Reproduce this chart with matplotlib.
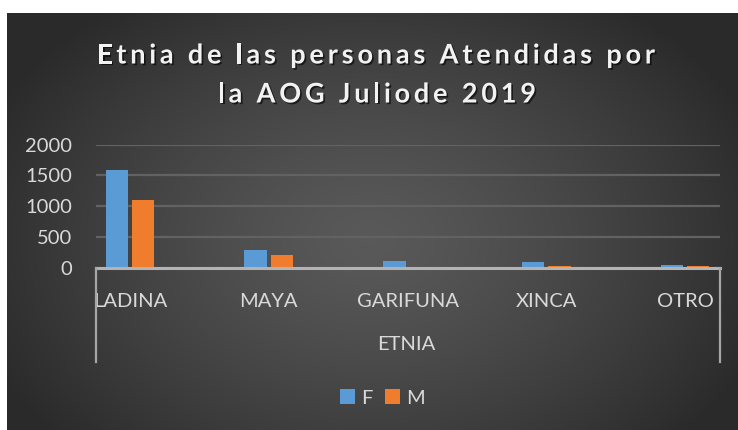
import numpy as np
import matplotlib
matplotlib.use("Agg")
import matplotlib.pyplot as plt
from matplotlib.lines import Line2D
from matplotlib.font_manager import FontProperties
import matplotlib.patheffects as pe

categories = ["LADINA", "MAYA", "GARIFUNA", "XINCA", "OTRO"]
f_values = [1590, 300, 118, 100, 53]
m_values = [1100, 215, 20, 37, 37]
y_ticks = [0, 500, 1000, 1500, 2000]
title_lines = ["Etnia de las personas Atendidas por", "la AOG Juliode 2019"]
axis_title = "ETNIA"
series_names = ["F", "M"]

W, H = 738, 430
DPI = 100
fig = plt.figure(figsize=(W / DPI, H / DPI), dpi=DPI)
fig.patch.set_facecolor("white")

def fx(px):
    return px / W

def fy(py):
    return 1 - py / H

# background with radial gradient
x0, y0 = 7, 13
bg = fig.add_axes([fx(x0), 0, 1 - fx(x0), fy(y0)], zorder=-10)
bg.set_axis_off()
gx = np.linspace(x0, W, 400)
gy = np.linspace(y0, H, 250)
XX, YY = np.meshgrid(gx, gy)
r = np.sqrt(((XX - 370) / 420) ** 2 + ((YY - 240) / 300) ** 2)
r = np.clip(r, 0, 1)
c = 0.35 - (0.35 - 0.165) * r ** 1.3
img = np.dstack([c, c, c])
bg.imshow(img, extent=[0, 1, 0, 1], aspect="auto", origin="upper")
bg.set_xlim(0, 1)
bg.set_ylim(0, 1)

# main axes
ax_l, ax_r, ax_t, ax_b = 96, 720, 144.5, 268.3
ax = fig.add_axes([fx(ax_l), fy(ax_b), fx(ax_r - ax_l), (ax_b - ax_t) / H])
ax.set_facecolor("none")
for s in ax.spines.values():
    s.set_visible(False)

xs = np.arange(len(categories))
bw = 0.162
off = 0.094
ax.bar(xs - off, f_values, width=bw, color="#5b9bd5", zorder=3, label=series_names[0])
ax.bar(xs + off, m_values, width=bw, color="#f07d2e", zorder=3, label=series_names[1])

ax.set_ylim(0, 2000)
ax.set_xlim(-0.245, 4.252)
ax.set_yticks(y_ticks)
ax.set_yticklabels([str(v) for v in y_ticks])
ax.yaxis.grid(True, color="#626262", linewidth=1.6, zorder=0)
ax.set_axisbelow(True)
ax.axhline(0, color="#b3b3b3", linewidth=2.2, zorder=4, clip_on=False)

ax.tick_params(axis="y", length=0, pad=17, labelcolor="#d9d9d9", labelsize=14.5)
for t in ax.get_yticklabels():
    t.set_fontfamily(["Lato", "DejaVu Sans"])
ax.set_xticks(xs)
ax.set_xticklabels(categories)
ax.tick_params(axis="x", length=0, pad=18, labelcolor="#d9d9d9", labelsize=14.5)
for t in ax.get_xticklabels():
    t.set_fontfamily(["Lato", "DejaVu Sans"])

# category axis separators
for xp in (ax_l, ax_r):
    fig.add_artist(Line2D([fx(xp), fx(xp)], [fy(ax_b), fy(362)], color="#a6a6a6", linewidth=1.6))

fig.text(fx(406), fy(345), axis_title, ha="center", va="center", color="#d9d9d9",
         fontsize=14.5, family=["Lato", "DejaVu Sans"])

# legend
leg = fig.legend(loc="center", bbox_to_anchor=(fx(382.5), fy(398)), ncol=2, frameon=False,
                 handlelength=0.72, handleheight=0.72, handletextpad=0.3, columnspacing=0.65,
                 borderpad=0, prop=FontProperties(family=["Lato", "DejaVu Sans"], size=14.5))
for t in leg.get_texts():
    t.set_color("#d9d9d9")

# letter-spaced title
renderer = fig.canvas.get_renderer()
tprop = FontProperties(family=["Lato", "DejaVu Sans"], weight="bold", size=19.5)

def str_w(s):
    if not s:
        return 0.0
    w1, _, _ = renderer.get_text_width_height_descent(s + "|", tprop, ismath=False)
    w2, _, _ = renderer.get_text_width_height_descent("|", tprop, ismath=False)
    return w1 - w2

def spaced_positions(s, sp):
    return [str_w(s[:i]) + i * sp for i in range(len(s))]

line1 = title_lines[0]
target1 = 558.0
nat1 = str_w(line1[:-1]) + renderer.get_text_width_height_descent(line1[-1], tprop, ismath=False)[0]
spacing = (target1 - nat1) / (len(line1) - 1)

shadow = [pe.withSimplePatchShadow(offset=(1.2, -1.2), shadow_rgbFace="black", alpha=0.6)]
for line, cx, base in zip(title_lines, (376, 377), (63.5, 102.5)):
    pos = spaced_positions(line, spacing)
    total = pos[-1] + renderer.get_text_width_height_descent(line[-1], tprop, ismath=False)[0]
    start = cx - total / 2
    for ch, p in zip(line, pos):
        if ch == " ":
            continue
        fig.text(fx(start + p), fy(base), ch, ha="left", va="baseline", color="#f2f2f2",
                 fontproperties=tprop, path_effects=shadow)

fig.savefig("out.png", dpi=DPI)
